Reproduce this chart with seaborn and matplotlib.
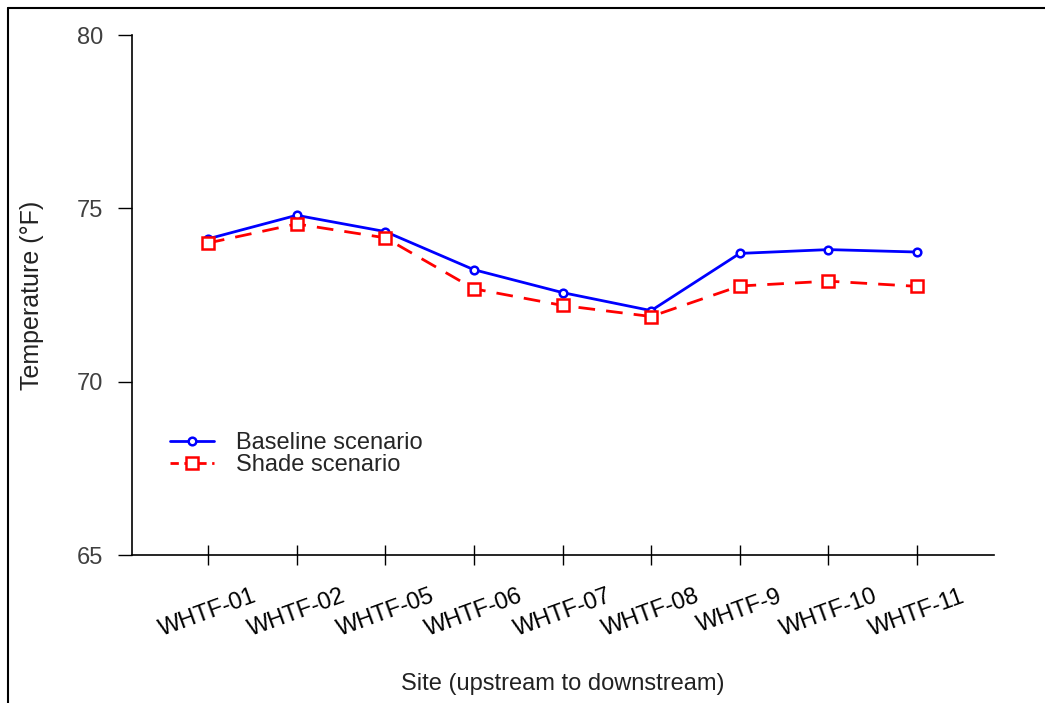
import pandas as pd
import matplotlib
matplotlib.use('Agg')
import matplotlib.pyplot as plt
from matplotlib.lines import Line2D
import seaborn as sns

# Site order (upstream to downstream) and modelled temperatures (deg F)
sites = ['WHTF-01', 'WHTF-02', 'WHTF-05', 'WHTF-06', 'WHTF-07',
         'WHTF-08', 'WHTF-9', 'WHTF-10', 'WHTF-11']
baseline = [74.12, 74.80, 74.33, 73.23, 72.57, 72.05, 73.70, 73.81, 73.74]
shade = [74.00, 74.55, 74.15, 72.68, 72.20, 71.88, 72.76, 72.90, 72.75]
scenario_names = ['Baseline scenario', 'Shade scenario']

df = pd.DataFrame({
    'Site': sites * 2,
    'Temperature': baseline + shade,
    'Scenario': [scenario_names[0]] * len(sites) + [scenario_names[1]] * len(sites),
})

sns.set_style('white')
plt.rcParams['font.family'] = ['Liberation Sans', 'DejaVu Sans']
fs = 17

fig = plt.figure(figsize=(10.45, 7.03), dpi=100)
ax = fig.add_axes([0.1263, 0.2105, 0.8249, 0.7397])

dash = (6, 4)
sns.lineplot(data=df, x='Site', y='Temperature', hue='Scenario', style='Scenario',
             palette={scenario_names[0]: '#0000ff', scenario_names[1]: '#ff0000'},
             markers={scenario_names[0]: 'o', scenario_names[1]: 's'},
             dashes={scenario_names[0]: '', scenario_names[1]: dash},
             sort=False, linewidth=2.0, ax=ax)

# hollow markers like the original
for line in ax.lines:
    line.set_markerfacecolor('white')
    line.set_markeredgecolor(line.get_color())
    line.set_markeredgewidth(1.8)
    if line.get_marker() == 'o':
        line.set_markersize(5.5)
    elif line.get_marker() == 's':
        line.set_markersize(8)

ax.set_ylim(65, 80)
ax.set_xlim(-0.858, 8.869)
ax.set_yticks([65, 70, 75, 80])
ax.set_yticklabels(['65', '70', '75', '80'], fontsize=fs, color='#404040')
ax.set_xticks(range(len(sites)))
ax.set_xticklabels(sites, fontsize=fs, rotation=20, ha='center', va='top', color='black')

for s in ['top', 'right']:
    ax.spines[s].set_visible(False)
for s in ['left', 'bottom']:
    ax.spines[s].set_color('black')
    ax.spines[s].set_linewidth(1.2)

ax.tick_params(axis='y', direction='out', length=10, width=1, color='black', pad=11, left=True)
ax.tick_params(axis='x', direction='inout', length=14, width=1, color='black', pad=15, bottom=True)

ax.set_xlabel('Site (upstream to downstream)', fontsize=fs, labelpad=23, color='#222222')
ax.set_ylabel('Temperature (°F)', fontsize=18, labelpad=23, color='#222222')

handles = [
    Line2D([], [], color='#0000ff', lw=2.0, marker='o', ms=5.5, mfc='white', mew=1.8),
    Line2D([], [], color='#ff0000', lw=2.0, ls=(0, (3, 2)), marker='s', ms=8, mfc='white', mew=1.8),
]
ax.legend(handles, scenario_names, loc='upper left', bbox_to_anchor=(0.044, 0.237),
          frameon=False, fontsize=fs, borderpad=0, borderaxespad=0,
          labelspacing=0.0, handlelength=1.85, handletextpad=0.95)

# partial frame around the figure (top and left edges)
fig.add_artist(Line2D([0.0077, 1.0], [0.9886, 0.9886], transform=fig.transFigure, color='black', lw=1.5))
fig.add_artist(Line2D([0.0077, 0.0077], [0.0, 0.9886], transform=fig.transFigure, color='black', lw=1.5))

fig.savefig('out.png', dpi=100)
